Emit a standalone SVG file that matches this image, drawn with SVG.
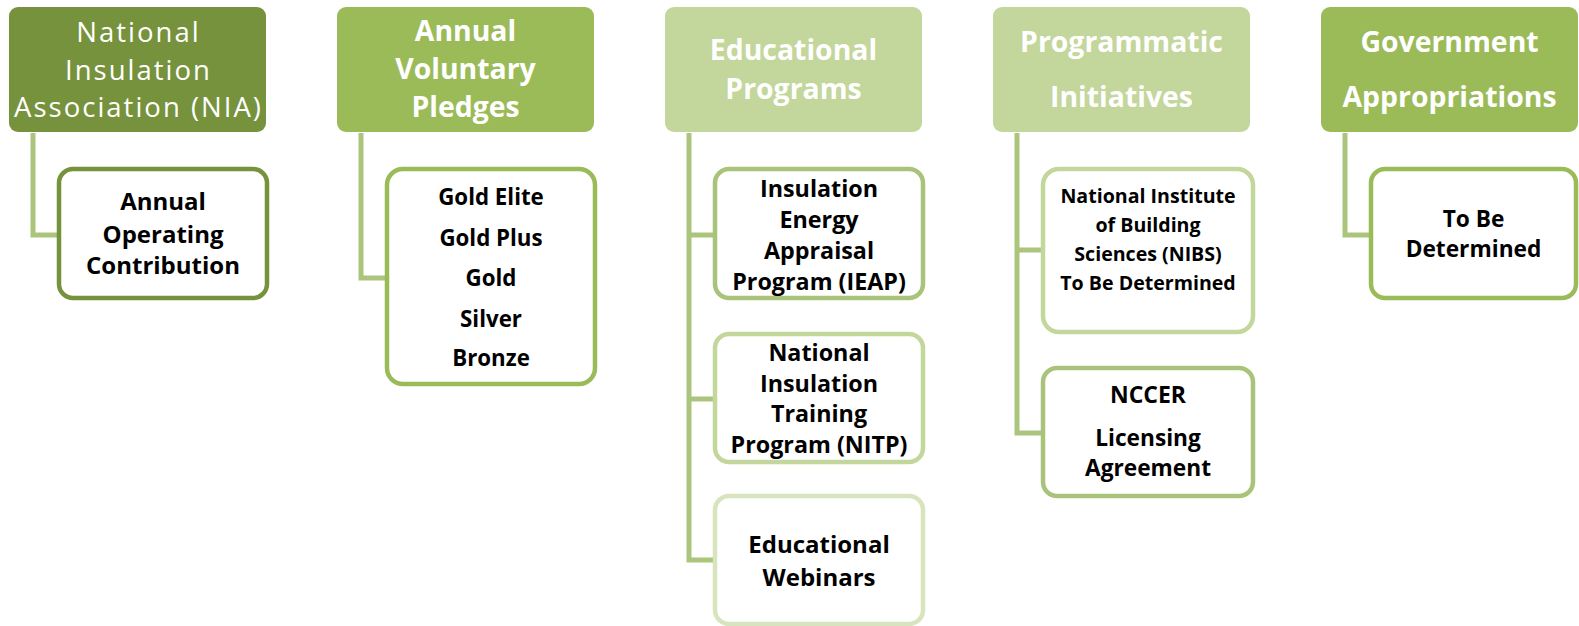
<svg xmlns="http://www.w3.org/2000/svg" width="1579" height="626" viewBox="0 0 1579 626">
<style>
.hd{font-family:"Open Sans",Lato,"Liberation Sans",sans-serif;font-size:28.4px;fill:#ffffff;text-anchor:middle}
.rg{font-size:27.5px;letter-spacing:2px}
.b{font-weight:bold}
.ch{font-family:"Open Sans",Lato,"Liberation Sans",sans-serif;font-size:23.3px;font-weight:bold;fill:#000000;text-anchor:middle}
.s24{font-size:24px}
.s22{font-size:22.3px}
.s20{font-size:19.6px}
.s23{font-size:23px}
.s228{font-size:22.7px}
.box{fill:#ffffff;stroke-width:4.5}
.con{fill:none;stroke:#abc57c;stroke-width:5;stroke-linejoin:miter}
</style>
<rect width="1579" height="626" fill="#ffffff"/>
<g id="connectors" class="con">
<path d="M33,133 V235 H60"/>
<path d="M361,133 V278 H389"/>
<path d="M689,133 V560 H716 M689,235 H716 M689,399 H716"/>
<path d="M1017,133 V433 H1044 M1017,250 H1044"/>
<path d="M1345,133 V235 H1372"/>
</g>
<g id="h1">
<rect x="9" y="7" width="257" height="125" rx="9" fill="#76923c"/>
<text class="hd rg" x="138.5" y="42">National</text>
<text class="hd rg" x="138.5" y="79.5">Insulation</text>
<text class="hd rg" x="138.5" y="117">Association (NIA)</text>
</g>
<g id="h2">
<rect x="337" y="7" width="257" height="125" rx="9" fill="#9bbb59"/>
<text class="hd b" x="465.5" y="41">Annual</text>
<text class="hd b" x="465.5" y="79">Voluntary</text>
<text class="hd b" x="465.5" y="117">Pledges</text>
</g>
<g id="h3">
<rect x="665" y="7" width="257" height="125" rx="9" fill="#c3d69b"/>
<text class="hd b" x="793.5" y="60">Educational</text>
<text class="hd b" x="793.5" y="99">Programs</text>
</g>
<g id="h4">
<rect x="993" y="7" width="257" height="125" rx="9" fill="#c3d69b"/>
<text class="hd b" x="1121.5" y="52">Programmatic</text>
<text class="hd b" x="1121.5" y="107">Initiatives</text>
</g>
<g id="h5">
<rect x="1321" y="7" width="257" height="125" rx="9" fill="#9bbb59"/>
<text class="hd b" x="1449.5" y="52">Government</text>
<text class="hd b" x="1449.5" y="107">Appropriations</text>
</g>
<g id="c1">
<rect class="box" x="59" y="169" width="208" height="129" rx="14" stroke="#76923c"/>
<text class="ch s24" x="163" y="210">Annual</text>
<text class="ch s24" x="163" y="243">Operating</text>
<text class="ch s24" x="163" y="274">Contribution</text>
</g>
<g id="c2">
<rect class="box" x="387" y="169" width="208" height="215" rx="16" stroke="#9bbb59"/>
<text class="ch s22" x="491" y="205">Gold Elite</text>
<text class="ch s22" x="491" y="246">Gold Plus</text>
<text class="ch s22" x="491" y="286">Gold</text>
<text class="ch s22" x="491" y="327">Silver</text>
<text class="ch s22" x="491" y="366">Bronze</text>
</g>
<g id="c3">
<rect class="box" x="715" y="169" width="208" height="129" rx="14" stroke="#a9c47a"/>
<text class="ch" x="819" y="197">Insulation</text>
<text class="ch" x="819" y="228">Energy</text>
<text class="ch" x="819" y="259">Appraisal</text>
<text class="ch" x="819" y="290">Program (IEAP)</text>
</g>
<g id="c4">
<rect class="box" x="715" y="334" width="208" height="128" rx="14" stroke="#c3d69b"/>
<text class="ch" x="819" y="361">National</text>
<text class="ch" x="819" y="392">Insulation</text>
<text class="ch" x="819" y="422">Training</text>
<text class="ch" x="819" y="453">Program (NITP)</text>
</g>
<g id="c5">
<rect class="box" x="715" y="496" width="208" height="128" rx="14" stroke="#d7e4bd"/>
<text class="ch s24" x="819" y="553">Educational</text>
<text class="ch s24" x="819" y="586">Webinars</text>
</g>
<g id="c6">
<rect class="box" x="1043" y="169" width="210" height="163" rx="16" stroke="#c3d69b"/>
<text class="ch s20" x="1148" y="203">National Institute</text>
<text class="ch s20" x="1148" y="232">of Building</text>
<text class="ch s20" x="1148" y="261">Sciences (NIBS)</text>
<text class="ch s20" x="1148" y="290">To Be Determined</text>
</g>
<g id="c7">
<rect class="box" x="1043" y="368" width="210" height="128" rx="14" stroke="#a9c47a"/>
<text class="ch s23" x="1148" y="403">NCCER</text>
<text class="ch s228" x="1148" y="446">Licensing</text>
<text class="ch s228" x="1148" y="476">Agreement</text>
</g>
<g id="c8">
<rect class="box" x="1371" y="169" width="205" height="129" rx="14" stroke="#9bbb59"/>
<text class="ch s228" x="1473.5" y="227">To Be</text>
<text class="ch s228" x="1473.5" y="257">Determined</text>
</g>
</svg>
